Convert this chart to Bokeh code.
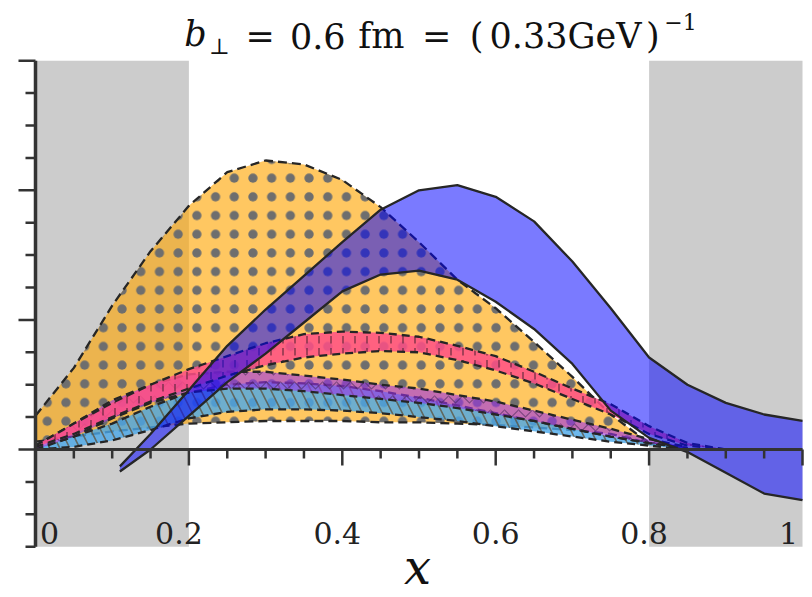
import math
from bokeh.plotting import figure
from bokeh.models import Range1d, BoxAnnotation, Label, ColumnDataSource
from bokeh.core.properties import value
from bokeh.embed import file_html
from bokeh.resources import INLINE

# ---------------- data ----------------
orange_x  = [0.00, 0.05, 0.10, 0.15, 0.20, 0.25, 0.30, 0.35, 0.40, 0.45, 0.50, 0.55, 0.60, 0.65, 0.70, 0.75, 0.80, 0.85]
orange_hi = [0.26, 0.63, 1.11, 1.53, 1.88, 2.14, 2.23, 2.20, 2.08, 1.87, 1.60, 1.31, 1.09, 0.83, 0.56, 0.27, 0.05, 0.01]
orange_lo = [0.06, 0.10, 0.14, 0.17, 0.20, 0.21, 0.22, 0.22, 0.22, 0.21, 0.21, 0.20, 0.19, 0.17, 0.15, 0.12, 0.05, 0.01]

blue_x  = [0.11, 0.15, 0.20, 0.25, 0.30, 0.35, 0.40, 0.45, 0.50, 0.55, 0.60, 0.65, 0.70, 0.75, 0.80, 0.85, 0.90, 0.95, 1.00]
blue_hi = [-0.13, 0.12, 0.46, 0.80, 1.08, 1.34, 1.60, 1.85, 2.00, 2.04, 1.95, 1.76, 1.45, 1.09, 0.71, 0.50, 0.36, 0.27, 0.22]
blue_lo = [-0.17, 0.00, 0.26, 0.52, 0.74, 0.98, 1.22, 1.35, 1.38, 1.31, 1.14, 0.93, 0.66, 0.30, 0.09, -0.02, -0.18, -0.34, -0.39]

pink_x  = [0.00, 0.05, 0.10, 0.15, 0.20, 0.25, 0.30, 0.35, 0.40, 0.45, 0.50, 0.55, 0.60, 0.65, 0.70, 0.75, 0.80, 0.85, 0.90]
pink_hi = [0.03, 0.20, 0.36, 0.50, 0.62, 0.72, 0.82, 0.89, 0.91, 0.90, 0.87, 0.80, 0.72, 0.60, 0.47, 0.35, 0.18, 0.05, 0.00]
pink_lo = [0.02, 0.12, 0.25, 0.37, 0.47, 0.57, 0.65, 0.71, 0.74, 0.76, 0.75, 0.69, 0.61, 0.51, 0.39, 0.27, 0.12, 0.03, 0.00]

purple_x  = [0.00, 0.05, 0.10, 0.15, 0.20, 0.25, 0.30, 0.35, 0.40, 0.45, 0.50, 0.55, 0.60, 0.65, 0.70, 0.75, 0.80, 0.85]
purple_hi = [0.03, 0.20, 0.38, 0.50, 0.58, 0.60, 0.60, 0.57, 0.54, 0.50, 0.47, 0.42, 0.37, 0.30, 0.23, 0.16, 0.08, 0.02]
purple_lo = [0.00, 0.10, 0.24, 0.36, 0.44, 0.47, 0.47, 0.45, 0.42, 0.39, 0.36, 0.32, 0.27, 0.22, 0.16, 0.10, 0.05, 0.01]

lblue_x  = [0.00, 0.05, 0.10, 0.15, 0.20, 0.25, 0.30, 0.35, 0.40, 0.45, 0.50, 0.55, 0.60, 0.65, 0.70, 0.75, 0.80, 0.85]
lblue_hi = [0.01, 0.10, 0.20, 0.33, 0.44, 0.50, 0.52, 0.51, 0.49, 0.45, 0.40, 0.34, 0.28, 0.22, 0.16, 0.10, 0.05, 0.01]
lblue_lo = [0.00, 0.02, 0.07, 0.15, 0.24, 0.29, 0.31, 0.31, 0.30, 0.28, 0.25, 0.22, 0.18, 0.14, 0.10, 0.06, 0.03, 0.00]

x_major = [0.0, 0.2, 0.4, 0.6, 0.8, 1.0]
x_labels = ["0", "0.2", "0.4", "0.6", "0.8", "1"]
x_minor = [0.05, 0.10, 0.15, 0.25, 0.30, 0.35, 0.45, 0.50, 0.55, 0.65, 0.70, 0.75, 0.85, 0.90, 0.95]
y_major = [0.0, 1.0, 2.0, 3.0]
y_minor = [-0.75, -0.5, -0.25, 0.25, 0.5, 0.75, 1.25, 1.5, 1.75, 2.25, 2.5, 2.75]
y_span = (-0.75, 3.0)
gray_regions = [(0.0, 0.2), (0.8, 1.0)]

# ---------------- layout / styling ----------------
W, H = 812, 597
X0_PX, X_SCALE = 35.0, 767.0      # pixel of x=0, pixels per unit x
Y0_PX, Y_SCALE = 449.0, 129.6     # pixel of y=0, pixels per unit y
SERIF = "DejaVu Serif"
AX = "#333333"
EDGE = "#262626"
label_dx = [14, -10, -5, 0, -5, -14]

def ypx(py):
    return (Y0_PX - py) / Y_SCALE

p = figure(width=W, height=H, output_backend="svg", toolbar_location=None,
           x_range=Range1d(-X0_PX / X_SCALE, (W - X0_PX) / X_SCALE),
           y_range=Range1d((Y0_PX - H) / Y_SCALE, Y0_PX / Y_SCALE),
           x_axis_location=None, y_axis_location=None,
           min_border=0, min_border_left=0, min_border_right=0,
           min_border_top=0, min_border_bottom=0)
p.grid.visible = False
p.outline_line_color = None
p.background_fill_color = "white"
p.border_fill_color = "white"

for a, b in gray_regions:
    p.add_layout(BoxAnnotation(left=a, right=b, bottom=y_span[0], top=y_span[1],
                               fill_color="#cccccc", fill_alpha=1.0,
                               line_color=None, level="underlay"))

def band(xs, lo, hi, fill, alpha, dash, hatch=None, hcolor=None, hscale=12, hweight=1.5, hxalpha=1.0):
    kw = {}
    if hatch:
        kw = dict(hatch_pattern=hatch, hatch_color=hcolor, hatch_scale=hscale,
                  hatch_weight=hweight, hatch_alpha=hxalpha)
    p.varea(x=xs, y1=lo, y2=hi, fill_color=fill, fill_alpha=alpha, **kw)
    p.line(xs, hi, line_color=EDGE, line_width=2.3, line_dash=dash)
    p.line(xs, lo, line_color=EDGE, line_width=2.3, line_dash=dash)

band(orange_x, orange_lo, orange_hi, "#FFA500", 0.62, "9 5", "dot", "#6e6e6e", 18.7, 1.0)
band(lblue_x, lblue_lo, lblue_hi, "#4AA8E8", 0.8, "8 5", "left_diagonal_line", "#5a4a30", 20, 1.6, 0.7)
band(purple_x, purple_lo, purple_hi, "#9B30E8", 0.6, "8 5", "horizontal_wave", "#3a2050", 14, 1.2, 0.5)
band(pink_x, pink_lo, pink_hi, "#FF4F86", 0.85, "8 5", "vertical_dash", "#4a2030", 12, 2.0, 0.5)
band(blue_x, blue_lo, blue_hi, "#0000FF", 0.52, "solid")

# x axis at y = 0
p.segment(x0=[0.0], y0=[0.0], x1=[1.0], y1=[0.0], line_color=AX, line_width=3)
p.ray(x=x_major, y=[0] * len(x_major), length=16, length_units="screen", angle=-math.pi / 2,
      line_color=AX, line_width=2.5)
p.ray(x=x_minor, y=[0] * len(x_minor), length=9, length_units="screen", angle=-math.pi / 2,
      line_color=AX, line_width=2.5)

# y axis at x = 0
p.segment(x0=[0.0], y0=[y_span[0]], x1=[0.0], y1=[y_span[1]], line_color=AX, line_width=3.5)
p.ray(x=[0] * len(y_major), y=y_major, length=17, length_units="screen", angle=math.pi,
      line_color=AX, line_width=2.5)
p.ray(x=[0] * len(y_minor), y=y_minor, length=10, length_units="screen", angle=math.pi,
      line_color=AX, line_width=2.5)

lab_src = ColumnDataSource(dict(x=x_major, text=x_labels, dx=label_dx))
p.text(x="x", y=ypx(532), text="text", x_offset="dx", source=lab_src,
       text_align="center", text_baseline="middle", text_font=value(SERIF),
       text_font_size="30px", text_color="#222222")

# axis title "x"
p.add_layout(Label(x=0.498, y=ypx(566), text="x", text_align="center",
                   text_baseline="middle", text_font=SERIF, text_font_style="italic",
                   text_font_size="48px", text_color="#111111"))

# plot title  b_perp = 0.6 fm = (0.33GeV)^-1   (token centre x, vertical centre pixel)
title_tokens = [
    ("b",       0.2086, 33, "35px", "italic"),
    ("\u22a5",  0.240,  46, "22px", "normal"),
    ("=",       0.293,  35, "35px", "normal"),
    ("0.6",     0.368,  35, "35px", "normal"),
    ("fm",      0.451,  35, "35px", "normal"),
    ("=",       0.523,  35, "35px", "normal"),
    ("(",       0.575,  35, "35px", "normal"),
    ("0.33GeV", 0.691,  35, "35px", "normal"),
    (")",       0.805,  35, "35px", "normal"),
    ("\u22121", 0.841,  21, "22px", "normal"),
]
for t, tx, py, fs, st in title_tokens:
    p.add_layout(Label(x=tx, y=ypx(py), text=t, text_align="center",
                       text_baseline="middle", text_font=SERIF, text_font_style=st,
                       text_font_size=fs, text_color="#111111"))

open("out.html", "w").write(file_html(p, INLINE))
